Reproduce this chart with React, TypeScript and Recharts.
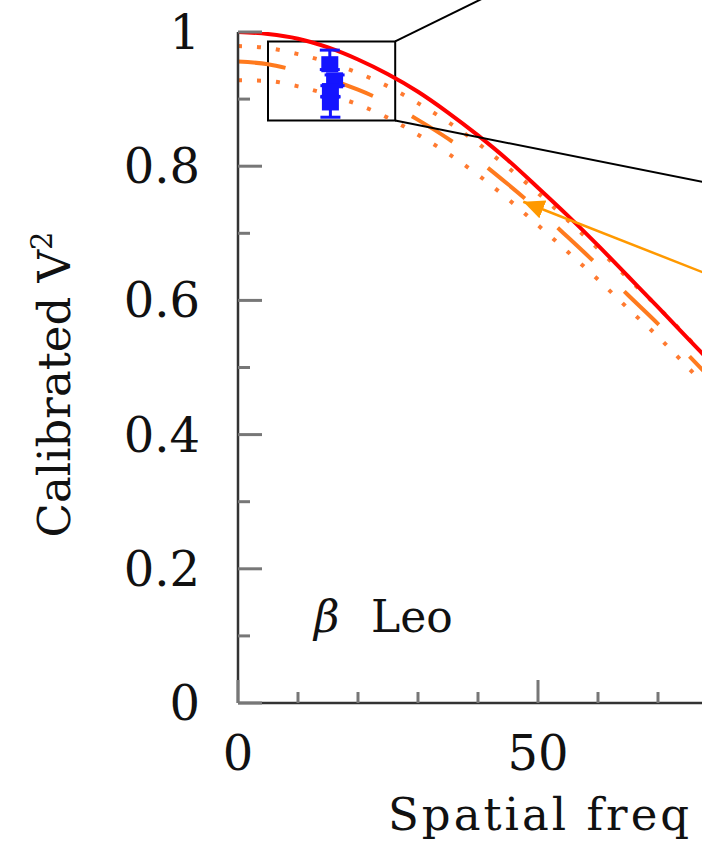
import React from 'react';
import {
  ComposedChart,
  Line,
  Scatter,
  ErrorBar,
  XAxis,
  YAxis,
  ReferenceArea,
  ReferenceLine,
  ReferenceDot,
} from 'recharts';

// spatial frequency grid for the model curves
const freq = [0, 5, 10, 15, 20, 25, 30, 35, 40, 45, 50, 55, 60, 65, 70, 75, 80];
// uniform disk model (red solid)
const diskModel = [1.0, 0.997, 0.99, 0.977, 0.959, 0.937, 0.911, 0.88, 0.846, 0.809, 0.768, 0.726, 0.682, 0.636, 0.59, 0.543, 0.497];
// best fit (orange dashed) and its envelope (orange dotted)
const fitModel = [0.956, 0.952, 0.942, 0.93, 0.914, 0.894, 0.869, 0.841, 0.809, 0.773, 0.735, 0.694, 0.652, 0.608, 0.565, 0.519, 0.472];
const fitUpper = [0.979, 0.976, 0.967, 0.955, 0.939, 0.919, 0.894, 0.866, 0.834, 0.798, 0.76, 0.719, 0.677, 0.633, 0.59, 0.544, 0.497];
const fitLower = [0.928, 0.927, 0.919, 0.907, 0.892, 0.872, 0.847, 0.819, 0.787, 0.751, 0.712, 0.672, 0.631, 0.588, 0.546, 0.5, 0.453];

// calibrated measurements (blue), errors as [below, above]
const obsFreq = [15.3, 16.1, 15.4, 15.4];
const obsV2 = [0.952, 0.928, 0.912, 0.895];
const obsErr = [[0.008, 0.021], [0.008, 0.008], [0.008, 0.008], [0.022, 0.008]];

const xTicks = [0, 10, 20, 30, 40, 50, 60, 70];
const yTicks = [0, 0.1, 0.2, 0.3, 0.4, 0.5, 0.6, 0.7, 0.8, 0.9, 1];

const rows = freq.map((x, i) => ({ x, disk: diskModel[i], fit: fitModel[i], hi: fitUpper[i], lo: fitLower[i] }));
const obs = obsFreq.map((x, i) => ({ x, v2: obsV2[i], err: obsErr[i] }));

const FONT = "'DejaVu Serif', 'Liberation Serif', serif";
const TICK_COLOR = '#777';
const AXIS_COLOR = '#333';

function fmtY(v: number) {
  if (v === 0) return '0';
  if (v === 1) return '1';
  return v.toFixed(1);
}

function YTick({ x, y, payload }: any) {
  const v = payload.value as number;
  const major = Math.round(v * 10) % 2 === 0;
  return (
    <g>
      <line x1={x} x2={x + (major ? 24 : 12)} y1={y} y2={y} stroke={TICK_COLOR} strokeWidth={3} />
      {major && (
        <text x={x - 38} y={y + 17} textAnchor="end" fontSize={48} fontFamily={FONT} fill="#111">
          {fmtY(v)}
        </text>
      )}
    </g>
  );
}

function XTickBottom({ x, y, payload }: any) {
  const v = payload.value as number;
  const major = v % 50 === 0;
  return (
    <g>
      <line x1={x} x2={x} y1={y} y2={y - (major ? 23 : 11)} stroke={TICK_COLOR} strokeWidth={3} />
      {major && (
        <text x={x} y={y + 67} textAnchor="middle" fontSize={48} fontFamily={FONT} fill="#111">
          {v}
        </text>
      )}
    </g>
  );
}

function XTickTop({ x, y, payload }: any) {
  const major = (payload.value as number) % 50 === 0;
  return <line x1={x} x2={x} y1={y} y2={y + (major ? 23 : 11)} stroke={TICK_COLOR} strokeWidth={3} />;
}

function YTitle({ viewBox }: any) {
  const cx = viewBox.x + 70;
  const cy = viewBox.y + viewBox.height / 2 + 17;
  return (
    <text transform={`translate(${cx}, ${cy}) rotate(-90)`} textAnchor="middle" fontSize={45} fontFamily={FONT} fill="#111">
      Calibrated V
      <tspan dy={-18} fontSize={29}>2</tspan>
    </text>
  );
}

function XTitle({ viewBox }: any) {
  return (
    <text x={viewBox.x + 150} y={viewBox.y + 127} fontSize={45} letterSpacing={3} fontFamily={FONT} fill="#111">
      Spatial freq
    </text>
  );
}

function StarName({ viewBox }: any) {
  const x = viewBox.x;
  const y = viewBox.y + viewBox.height / 2;
  return (
    <text y={y} fontSize={44} fontFamily={FONT} fill="#111">
      <tspan x={x + 2} fontStyle="italic">β</tspan>
      <tspan x={x + 59}>Leo</tspan>
    </text>
  );
}

function SquareMark(props: any) {
  const { cx, cy } = props;
  return <rect x={cx - 8.5} y={cy - 8} width={17} height={16} fill="#1414ff" />;
}

export default function App() {
  return (
    <div style={{ position: 'absolute', left: 0, top: 0, width: 702, height: 841, overflow: 'hidden', background: '#fff' }}>
      <svg width={0} height={0} style={{ position: 'absolute' }}>
        <defs>
          <marker id="orangeHead" markerWidth={22} markerHeight={20} refX={21} refY={9.5} orient="auto" markerUnits="userSpaceOnUse">
            <path d="M0,0 L21,9.5 L0,19 z" fill="#ff9900" />
          </marker>
        </defs>
      </svg>
      <ComposedChart width={858} height={841} data={rows} margin={{ top: 32, right: 20, bottom: 0, left: 0 }}>
        <XAxis
          dataKey="x"
          type="number"
          domain={[0, 100]}
          allowDataOverflow
          ticks={xTicks}
          interval={0}
          height={138}
          tickSize={0}
          tickMargin={0}
          tickLine={false}
          tick={<XTickBottom />}
          axisLine={{ stroke: AXIS_COLOR, strokeWidth: 2.5 }}
          label={{ content: XTitle }}
        />
        <XAxis
          xAxisId="top"
          orientation="top"
          type="number"
          domain={[0, 100]}
          allowDataOverflow
          ticks={xTicks}
          interval={0}
          height={0}
          tickSize={0}
          tickMargin={0}
          tickLine={false}
          tick={<XTickTop />}
          axisLine={{ stroke: AXIS_COLOR, strokeWidth: 2.5 }}
        />
        <YAxis
          type="number"
          domain={[0, 1]}
          allowDataOverflow
          ticks={yTicks}
          interval={0}
          width={238}
          tickSize={0}
          tickMargin={0}
          tickLine={false}
          tick={<YTick />}
          axisLine={{ stroke: AXIS_COLOR, strokeWidth: 2.5 }}
          label={{ content: YTitle }}
        />
        <Line dataKey="hi" type="monotone" stroke="#ff7a30" strokeWidth={4} strokeDasharray="4 15" dot={false} isAnimationActive={false} />
        <Line dataKey="lo" type="monotone" stroke="#ff7a30" strokeWidth={4} strokeDasharray="4 15" dot={false} isAnimationActive={false} />
        <Line dataKey="fit" type="monotone" stroke="#ff7a1e" strokeWidth={4} strokeDasharray="48 44" dot={false} isAnimationActive={false} />
        <Line dataKey="disk" type="monotone" stroke="#ff0000" strokeWidth={4} dot={false} isAnimationActive={false} />
        <Scatter data={obs} dataKey="v2" fill="#1414ff" shape={<SquareMark />} isAnimationActive={false}>
          <ErrorBar dataKey="err" direction="y" width={10} stroke="#1414ff" strokeWidth={3} />
        </Scatter>
        <ReferenceArea x1={5} x2={26.2} y1={0.868} y2={0.986} fill="none" stroke="#000" strokeWidth={2} ifOverflow="visible" />
        <ReferenceLine segment={[{ x: 26.2, y: 0.986 }, { x: 43.75, y: 1.063 }]} stroke="#000" strokeWidth={2} ifOverflow="visible" />
        <ReferenceLine segment={[{ x: 26.2, y: 0.868 }, { x: 80, y: 0.772 }]} stroke="#000" strokeWidth={2} ifOverflow="visible" />
        <ReferenceLine
          segment={[{ x: 80, y: 0.633 }, { x: 47.55, y: 0.747 }]}
          stroke="#ff9900"
          strokeWidth={2.5}
          markerEnd="url(#orangeHead)"
          ifOverflow="visible"
        />
        <ReferenceDot x={12.5} y={0.106} r={1} fill="none" stroke="none" label={{ content: StarName }} />
      </ComposedChart>
    </div>
  );
}
